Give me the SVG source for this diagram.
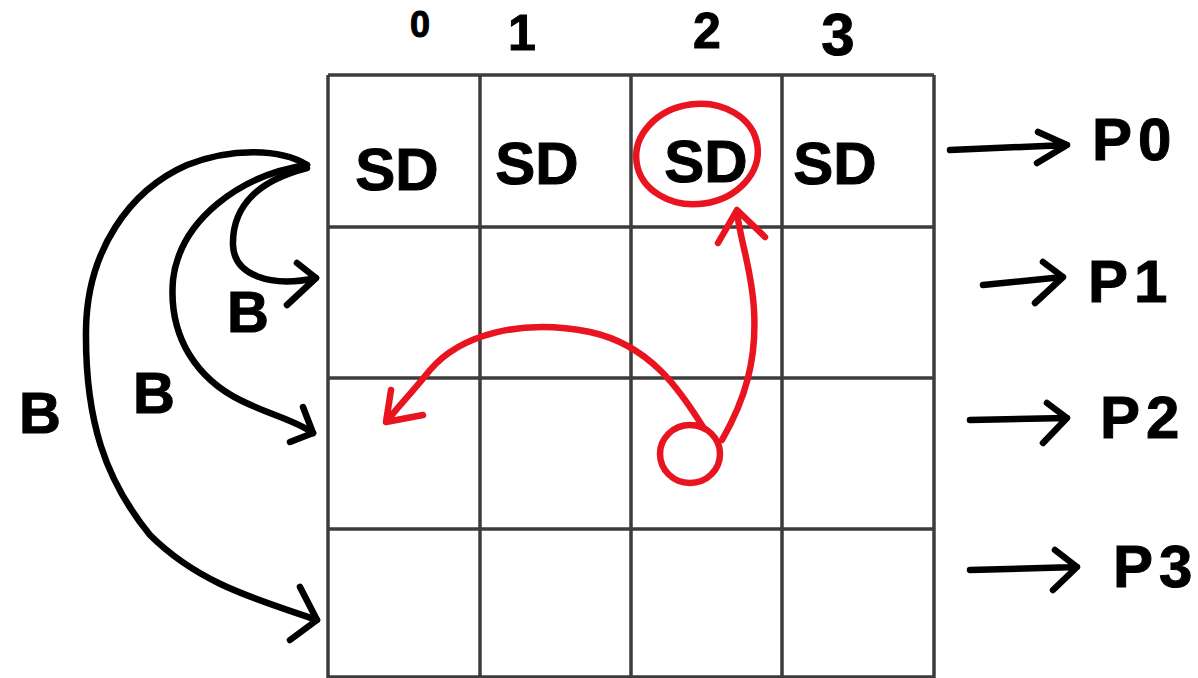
<svg xmlns="http://www.w3.org/2000/svg" width="1198" height="678" viewBox="0 0 1198 678">
<style>
.grid{stroke:#3c3c3c;stroke-width:3.5;fill:none}
.ink{stroke:#000;stroke-width:6.5;fill:none;stroke-linecap:round;stroke-linejoin:round}
.red{stroke:#e8141f;stroke-width:6.5;fill:none;stroke-linecap:round;stroke-linejoin:round}
.t{font-family:"Liberation Sans",Arial,sans-serif;font-weight:bold;fill:#000;stroke:#000;stroke-width:1}
.sd{font-size:60px;text-anchor:middle}
.b{font-size:58px;text-anchor:middle}
.p{font-size:60px;letter-spacing:6px}
.c{font-size:50px;text-anchor:middle}
</style>
<rect width="1198" height="678" fill="#fff"/>
<g id="grid">
<path class="grid" d="M328,75 H934 M328,227 H934 M328,378 H934 M328,529 H934 M328,677 H934 M328,75 V678 M480,75 V678 M631,75 V678 M782,75 V678 M934,75 V678"/>
</g>
<g id="col-labels">
<text class="t c" x="420" y="37" style="font-size:36px">0</text>
<text class="t c" x="522" y="50">1</text>
<text class="t c" x="707" y="48">2</text>
<text class="t c" x="838" y="55" style="font-size:60px">3</text>
</g>
<g id="cell-0-0"><text class="t sd" x="397" y="190">SD</text></g>
<g id="cell-0-1"><text class="t sd" x="537" y="184">SD</text></g>
<g id="cell-0-2"><text class="t sd" x="706" y="182">SD</text><ellipse class="red" cx="697" cy="154" rx="61" ry="50" transform="rotate(-8 697 154)"/></g>
<g id="cell-0-3"><text class="t sd" x="835" y="184">SD</text></g>
<g id="cell-2-2"><ellipse class="red" cx="690" cy="454" rx="30" ry="29"/></g>
<g id="labels-B">
<text class="t b" x="40" y="433">B</text>
<text class="t b" x="154" y="413">B</text>
<text class="t b" x="248" y="332">B</text>
</g>
<g id="labels-P">
<text class="t p" x="1092" y="160">P0</text>
<text class="t p" x="1088" y="302">P1</text>
<text class="t p" x="1100" y="438">P2</text>
<text class="t p" x="1113" y="587">P3</text>
</g>
<g id="connectors">
<path class="ink" d="M307,165 C280,148 230,148 187,165 C130,190 87,250 86,330 C85,420 105,480 150,535 C200,585 260,600 317,620"/>
<path class="ink" d="M300,587 L317,620 L290,640"/>
<path class="ink" d="M307,165 C240,175 180,220 173,280 C168,340 200,380 240,400 C270,415 295,420 313,433"/>
<path class="ink" d="M303,407 L313,433 L290,442"/>
<path class="ink" d="M307,168 C260,180 232,205 233,245 C234,275 270,288 316,278"/>
<path class="ink" d="M297,263 L316,278 L287,305"/>
<path class="ink" d="M950,150 L1067,145 M1038,132 L1067,145 L1037,163"/>
<path class="ink" d="M983,285 L1063,277 M1043,262 L1063,277 L1035,303"/>
<path class="ink" d="M970,420 L1067,418 M1047,403 L1067,418 L1043,443"/>
<path class="ink" d="M970,570 L1077,567 M1055,550 L1077,567 L1053,590"/>
<path class="red" d="M722,440 C745,400 757,360 754,310 C752,270 740,240 737,212"/>
<path class="red" d="M718,243 L737,210 L765,237"/>
<path class="red" d="M703,427 C680,390 650,345 590,332 C520,318 460,335 430,370 C410,395 395,410 388,420"/>
<path class="red" d="M391,390 L386,422 L423,415"/>
</g>
</svg>
